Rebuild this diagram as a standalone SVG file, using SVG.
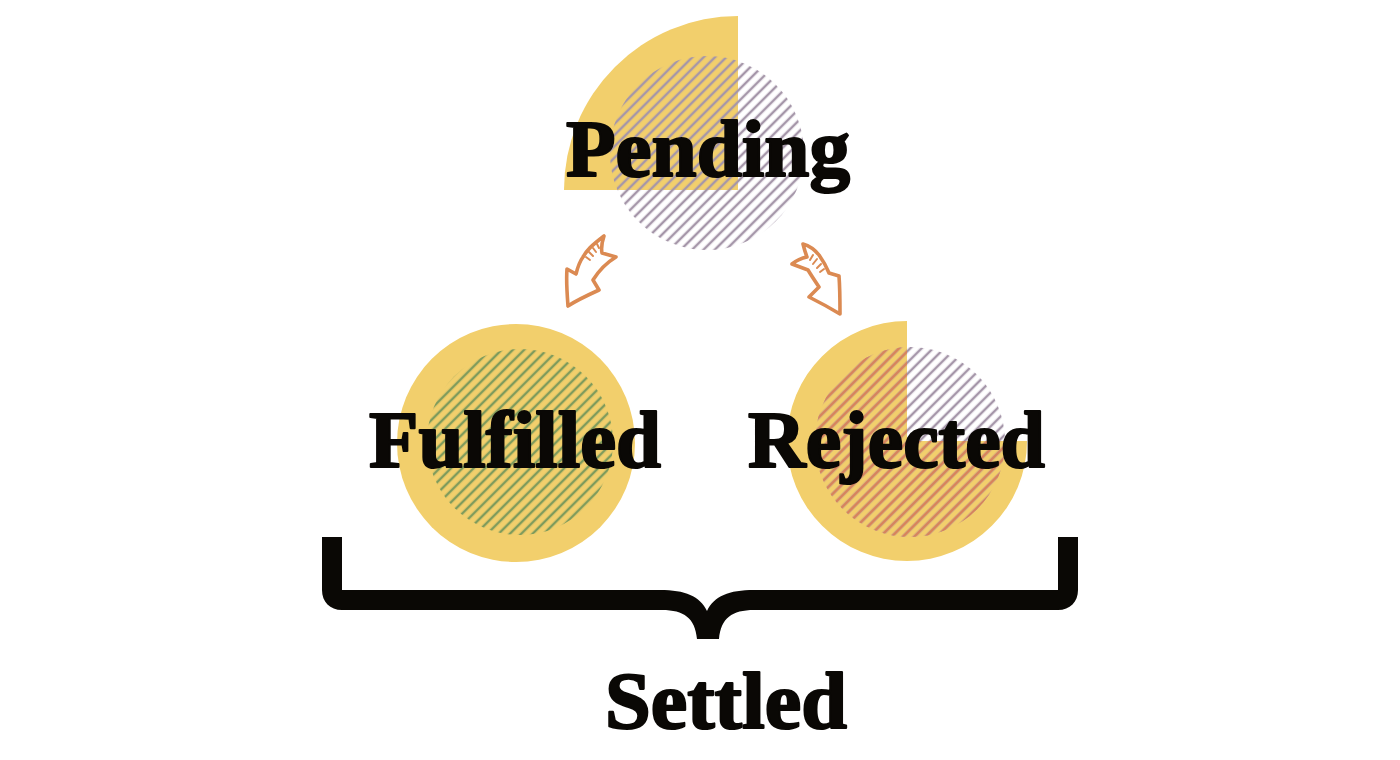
<svg xmlns="http://www.w3.org/2000/svg" width="1400" height="760" viewBox="0 0 1400 760">
<style>
.yel{fill:#f2cf6c}
.lbl{font-family:"Liberation Serif","DejaVu Serif",serif;font-weight:bold;font-size:80px;fill:#0a0805;stroke:#0a0805;stroke-width:2.2;stroke-linejoin:round}
.arrow{fill:#fff;stroke:#db8a52;stroke-width:3.6;stroke-linejoin:round;stroke-linecap:round}
.tick{stroke:#db8a52;stroke-width:2;stroke-linecap:round}
</style>
<defs>
<pattern id="hGray" width="8" height="8" patternUnits="userSpaceOnUse" patternTransform="rotate(45)"><line x1="2" y1="0" x2="2" y2="8" stroke="#a596a9" stroke-width="2.5"/></pattern>
<pattern id="hGreen" width="8" height="8" patternUnits="userSpaceOnUse" patternTransform="rotate(45)"><line x1="2" y1="0" x2="2" y2="8" stroke="#7e9b5c" stroke-width="2.5"/></pattern>
<pattern id="hOrange" width="8" height="8" patternUnits="userSpaceOnUse" patternTransform="rotate(45)"><line x1="2" y1="0" x2="2" y2="8" stroke="#d9835a" stroke-width="2.5"/></pattern>
<clipPath id="rejClip"><path d="M907,441 L907,321 A120,120 0 1,0 1027,441 Z"/></clipPath>
</defs>
<rect width="1400" height="760" fill="#fff"/>

<g id="pending">
<path class="yel" d="M738,190 L564,190 A174,174 0 0,1 738,16 Z"/>
<circle cx="707" cy="153" r="97" fill="url(#hGray)"/>
<text class="lbl" x="566" y="176" textLength="284" lengthAdjust="spacingAndGlyphs">Pending</text>
</g>

<g id="fulfilled">
<circle class="yel" cx="516" cy="443" r="119"/>
<circle cx="520" cy="442" r="93" fill="url(#hGreen)"/>
<text class="lbl" x="369" y="467" textLength="292" lengthAdjust="spacingAndGlyphs">Fulfilled</text>
</g>

<g id="rejected">
<path class="yel" d="M907,441 L907,321 A120,120 0 1,0 1027,441 Z"/>
<circle cx="910" cy="442" r="95" fill="url(#hGray)"/>
<circle cx="910" cy="442" r="95" fill="url(#hOrange)" clip-path="url(#rejClip)"/>
<text class="lbl" x="748" y="467" textLength="297" lengthAdjust="spacingAndGlyphs">Rejected</text>
</g>

<g id="connectors">
<g id="arrow-left">
<path class="arrow" d="M604,236 C602,242 601,248 602,253 L616,257 C606,263 598,272 593,280 L599,290 C588,295 577,300 568,306 C567,293 566,281 567,269 L576,274 C578,266 580,261 583,257 C587,250 591,246 604,236 Z"/>
<line class="tick" x1="586" y1="257" x2="590" y2="260"/>
<line class="tick" x1="589" y1="252" x2="593" y2="256"/>
<line class="tick" x1="593" y1="248" x2="596" y2="252"/>
<line class="tick" x1="597" y1="244" x2="599" y2="248"/>
</g>
<g id="arrow-right">
<path class="arrow" d="M803,244 C810,246 815,250 819,255 C824,262 827,268 829,273 L839,276 C840,289 840,302 840,314 C830,308 819,302 809,297 L819,287 C815,281 811,275 808,270 L792,264 C797,260 802,258 807,257 C805,252 804,248 803,244 Z"/>
<line class="tick" x1="813" y1="255" x2="810" y2="260"/>
<line class="tick" x1="817" y1="259" x2="813" y2="264"/>
<line class="tick" x1="821" y1="264" x2="817" y2="268"/>
<line class="tick" x1="824" y1="269" x2="820" y2="272"/>
</g>
</g>

<g id="settled">
<path fill="#0a0805" d="M322,537 L342,537 L342,590 L660,590 C685,590 700,596 707,611 C714,596 729,590 754,590 L1058,590 L1058,537 L1078,537 L1078,590 C1078,602 1070,610 1058,610 L754,610 C732,610 721,618 719,639 L697,639 C695,618 684,610 662,610 L342,610 C330,610 322,602 322,590 Z"/>
<text class="lbl" x="605" y="728" textLength="242" lengthAdjust="spacingAndGlyphs">Settled</text>
</g>
</svg>
